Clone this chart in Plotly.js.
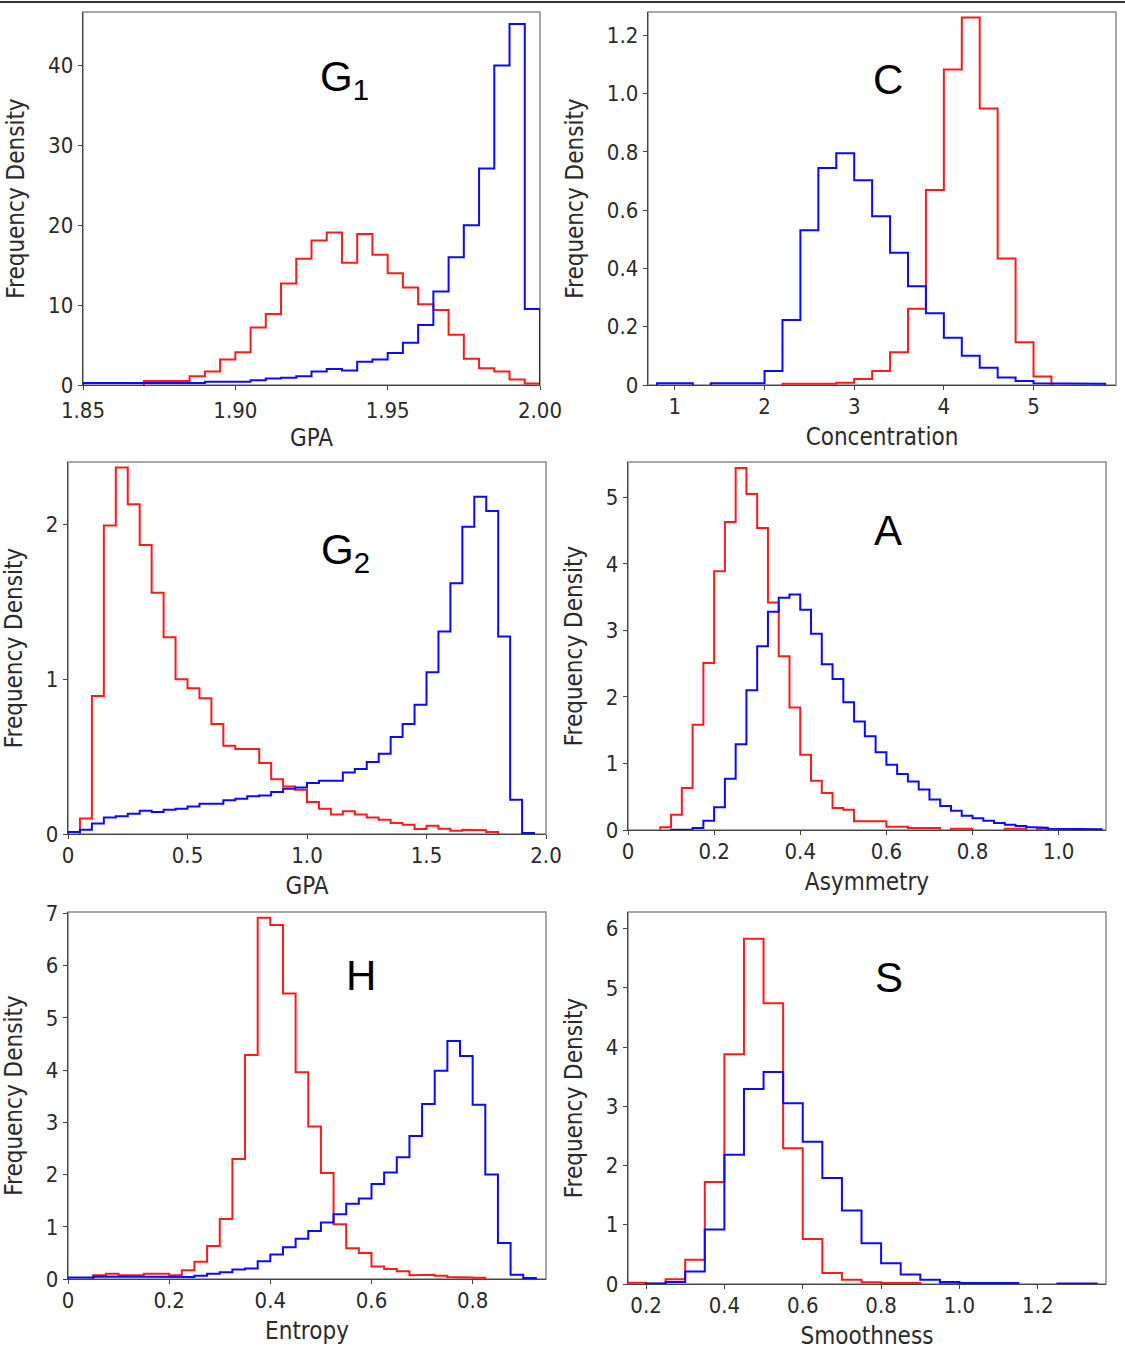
<!DOCTYPE html>
<html>
<head>
<meta charset="utf-8">
<script src="https://cdn.plot.ly/plotly-3.0.1.min.js"></script>
<style>html,body{margin:0;padding:0;background:#fff;}#chart{width:1125px;height:1355px;}</style>
</head>
<body>
<div id="chart"></div>
<script>
// ---- Data (bin start, bin width, density per bin; null = empty bin) ----
const g1Start = 1.85, g1Width = 0.005;
const g1Red  = [null,null,null,null,0.5,0.5,0.5,1.1,1.7,3.2,4.1,7.2,8.9,12.7,15.8,18.1,19.1,15.3,18.9,16.3,14.0,12.2,10.1,9.4,6.3,3.3,2.1,1.7,0.7,0.2];
const g1Blue = [0.25,0.25,0.25,0.25,0.25,0.25,0.25,0.25,0.4,0.4,0.4,0.6,0.8,0.9,1.1,1.7,2.0,1.8,2.9,3.2,4.0,5.3,7.5,11.7,16.0,20.0,27.1,40.0,45.2,9.5];

const cStart = 0.8, cWidth = 0.2;
const cRed  = [null,null,null,null,null,null,null,0.004,0.004,0.004,0.008,0.021,0.048,0.112,0.262,0.669,1.083,1.261,0.949,0.434,0.147,0.029,null,null,null];
const cBlue = [0.006,0.006,null,0.006,0.006,0.006,0.048,0.223,0.531,0.745,0.795,0.703,0.579,0.454,0.339,0.246,0.162,0.100,0.059,0.026,0.014,0.006,0.004,0.004,0.004];

const g2Start = 0.0, g2Width = 0.05;
const g2Red  = [null,0.10,0.89,1.99,2.365,2.127,1.865,1.557,1.27,0.999,0.941,0.876,0.709,0.569,0.548,0.548,0.458,0.354,0.307,0.286,0.206,0.163,0.125,0.146,0.125,0.107,0.092,0.071,0.06,0.032,0.054,0.034,0.021,0.028,0.024,0.013,null,null,null,null];
const g2Blue = [0.013,0.028,0.067,0.107,0.114,0.131,0.15,0.142,0.157,0.163,0.178,0.195,0.195,0.217,0.228,0.243,0.249,0.271,0.292,0.30,0.329,0.344,0.344,0.397,0.419,0.464,0.518,0.625,0.709,0.834,1.044,1.306,1.618,1.983,2.176,2.084,1.274,0.221,0.006,null];

const aStart = 0.075, aWidth = 0.025;
const aRed  = [0.04,0.23,0.63,1.58,2.51,3.89,4.63,5.44,5.05,4.54,3.42,2.61,1.84,1.13,0.74,0.556,0.33,0.306,0.13,0.13,0.13,0.05,0.05,0.03,0.03,0.03,null,0.02,0.02,null,null,null,0.02,0.02,null,0.02,null,null,null,null,null];
const aBlue = [null,0.005,0.005,0.03,0.14,0.34,0.77,1.29,2.10,2.76,3.28,3.49,3.54,3.31,2.95,2.49,2.27,1.92,1.63,1.41,1.17,0.98,0.84,0.73,0.61,0.46,0.36,0.29,0.215,0.175,0.14,0.105,0.08,0.06,0.045,0.035,0.02,0.01,0.01,0.01,0.01];

const hStart = 0.0, hWidth = 0.025;
const hRed  = [null,null,0.07,0.10,0.07,0.07,0.10,0.10,0.07,0.17,0.33,0.63,1.15,2.30,4.29,6.92,6.78,5.47,3.96,2.92,2.03,1.05,0.59,0.50,0.24,0.19,0.15,0.07,0.08,0.06,0.04,0.03,0.025,null,null,null,null];
const hBlue = [0.03,0.03,0.05,0.05,0.05,0.05,0.05,0.05,0.05,0.04,0.06,0.10,0.13,0.18,0.20,0.34,0.47,0.61,0.77,0.92,1.08,1.24,1.44,1.54,1.82,2.04,2.33,2.74,3.35,3.99,4.56,4.27,3.34,2.00,0.69,0.08,0.02];

const sStart = 0.15, sWidth = 0.05;
const sRed  = [0.02,0.005,0.08,0.41,1.72,3.88,5.83,4.74,2.29,0.76,0.185,0.07,0.03,0.015,0.015,null,0.01,null,null,null,null,null,null,null];
const sBlue = [null,0.01,0.035,0.21,0.92,2.18,3.29,3.58,3.05,2.40,1.79,1.24,0.69,0.35,0.16,0.07,0.035,0.015,0.015,0.015,null,null,0.01,0.01];

// ---- Tick labels ----
const g1XTicks = [1.85,1.90,1.95,2.00], g1XText = ["1.85","1.90","1.95","2.00"];
const g1YTicks = [0,10,20,30,40], g1YText = ["0","10","20","30","40"];
const cXTicks = [1,2,3,4,5], cXText = ["1","2","3","4","5"];
const cYTicks = [0,0.2,0.4,0.6,0.8,1.0,1.2], cYText = ["0","0.2","0.4","0.6","0.8","1.0","1.2"];
const g2XTicks = [0,0.5,1.0,1.5,2.0], g2XText = ["0","0.5","1.0","1.5","2.0"];
const g2YTicks = [0,1,2], g2YText = ["0","1","2"];
const aXTicks = [0,0.2,0.4,0.6,0.8,1.0], aXText = ["0","0.2","0.4","0.6","0.8","1.0"];
const aYTicks = [0,1,2,3,4,5], aYText = ["0","1","2","3","4","5"];
const hXTicks = [0,0.2,0.4,0.6,0.8], hXText = ["0","0.2","0.4","0.6","0.8"];
const hYTicks = [0,1,2,3,4,5,6,7], hYText = ["0","1","2","3","4","5","6","7"];
const sXTicks = [0.2,0.4,0.6,0.8,1.0,1.2], sXText = ["0.2","0.4","0.6","0.8","1.0","1.2"];
const sYTicks = [0,1,2,3,4,5,6], sYText = ["0","1","2","3","4","5","6"];

const panelLabels = ["G<sub>1</sub>","C","G<sub>2</sub>","A","H","S"];
const xTitles = ["GPA","Concentration","GPA","Asymmetry","Entropy","Smoothness"];
const yTitle = "Frequency Density";

// ---- Build step outlines ----
function stepXY(start, width, vals) {
  const x = [], y = [];
  let prevNull = true;
  for (let i = 0; i < vals.length; i++) {
    const l = start + i * width, r = start + (i + 1) * width;
    const v = vals[i];
    if (v === null) {
      if (!prevNull) { x.push(l); y.push(0); x.push(null); y.push(null); }
      prevNull = true; continue;
    }
    if (prevNull) { x.push(l); y.push(0); }
    x.push(l); y.push(v); x.push(r); y.push(v);
    prevNull = false;
  }
  if (!prevNull) { x.push(start + vals.length * width); y.push(0); }
  return {x, y};
}

const RED = '#ff1a1a', BLUE = '#0a0aff';
const panels = [
  {start: g1Start, width: g1Width, red: g1Red, blue: g1Blue},
  {start: cStart, width: cWidth, red: cRed, blue: cBlue},
  {start: g2Start, width: g2Width, red: g2Red, blue: g2Blue},
  {start: aStart, width: aWidth, red: aRed, blue: aBlue},
  {start: hStart, width: hWidth, red: hRed, blue: hBlue},
  {start: sStart, width: sWidth, red: sRed, blue: sBlue}
];

const traces = [];
panels.forEach((p, i) => {
  const sfx = i === 0 ? '' : String(i + 1);
  const r = stepXY(p.start, p.width, p.red);
  const b = stepXY(p.start, p.width, p.blue);
  traces.push({x: r.x, y: r.y, type: 'scatter', mode: 'lines', line: {color: RED, width: 2}, xaxis: 'x' + sfx, yaxis: 'y' + sfx, showlegend: false, hoverinfo: 'skip', connectgaps: false});
  traces.push({x: b.x, y: b.y, type: 'scatter', mode: 'lines', line: {color: BLUE, width: 2}, xaxis: 'x' + sfx, yaxis: 'y' + sfx, showlegend: false, hoverinfo: 'skip', connectgaps: false});
});

// ---- Layout ----
const W = 1125, H = 1355;
const FONT = 'DejaVu Sans Condensed, DejaVu Sans, sans-serif';
const boxes = [ // [left, right, top, bottom] in px
  [83, 540, 12, 385],
  [648, 1116, 12, 385],
  [68, 546, 462, 834],
  [628, 1106, 462, 830],
  [68, 546, 912, 1279],
  [628, 1106, 912, 1284]
];
const xRanges = [[1.85, 2.0], [0.70, 5.92], [0, 2.0], [0, 1.11], [0, 0.945], [0.154, 1.374]];
const yRanges = [[0, 46.7], [0, 1.28], [0, 2.40], [0, 5.53], [0, 7.03], [0, 6.28]];
const xT = [[g1XTicks,g1XText],[cXTicks,cXText],[g2XTicks,g2XText],[aXTicks,aXText],[hXTicks,hXText],[sXTicks,sXText]];
const yT = [[g1YTicks,g1YText],[cYTicks,cYText],[g2YTicks,g2YText],[aYTicks,aYText],[hYTicks,hYText],[sYTicks,sYText]];
const labelPos = [[344, 80], [888, 80], [345, 552], [888, 530], [361, 975], [889, 977]];
const xLabelStandoff = [1, -3, -3, -3, -3, -3];
const xTitleStandoff = [7, 10, 10, 10, 10, 10];

const layout = {
  width: W, height: H,
  margin: {l: 0, r: 0, t: 0, b: 0},
  paper_bgcolor: '#fff', plot_bgcolor: '#fff',
  showlegend: false,
  font: {family: FONT, size: 22, color: '#2a2a2a'},
  shapes: [
    {type: 'line', xref: 'paper', yref: 'paper', x0: 0, x1: 1, y0: 1 - 2 / H, y1: 1 - 2 / H, line: {color: '#333', width: 2}}
  ],
  annotations: []
};

boxes.forEach((bx, i) => {
  const sfx = i === 0 ? '' : String(i + 1);
  layout['xaxis' + sfx] = {
    domain: [bx[0] / W, bx[1] / W], anchor: 'y' + sfx, range: xRanges[i],
    showgrid: false, zeroline: false, showline: true, linecolor: '#444', linewidth: 1.3,
    ticks: 'outside', ticklen: 4, tickcolor: '#444', tickwidth: 1, ticklabelstandoff: xLabelStandoff[i],
    tickvals: xT[i][0], ticktext: xT[i][1], tickfont: {family: FONT, size: 22, color: '#2a2a2a'},
    title: {text: xTitles[i], font: {family: FONT, size: 24, color: '#2a2a2a'}, standoff: xTitleStandoff[i]},
    automargin: false, fixedrange: true
  };
  layout['yaxis' + sfx] = {
    domain: [1 - bx[3] / H, 1 - bx[2] / H], anchor: 'x' + sfx, range: yRanges[i],
    showgrid: false, zeroline: false, showline: true, linecolor: '#444', linewidth: 1.3,
    ticks: 'outside', ticklen: 4, tickcolor: '#444', tickwidth: 1,
    tickvals: yT[i][0], ticktext: yT[i][1], tickfont: {family: FONT, size: 22, color: '#2a2a2a'},
    title: {text: yTitle, font: {family: FONT, size: 24, color: '#2a2a2a'}, standoff: 16},
    automargin: false, fixedrange: true
  };
  layout.shapes.push({type: 'rect', xref: 'x' + sfx + ' domain', yref: 'y' + sfx + ' domain', x0: 0, x1: 1, y0: 0, y1: 1, line: {color: '#8a8a8a', width: 1.5}, layer: 'below'});
  layout.annotations.push({
    text: panelLabels[i], xref: 'paper', yref: 'paper',
    x: labelPos[i][0] / W, y: 1 - labelPos[i][1] / H, xanchor: 'center', yanchor: 'middle',
    showarrow: false, font: {family: 'Liberation Sans, Arial, sans-serif', size: 42, color: '#000'}
  });
});

Plotly.newPlot('chart', traces, layout, {staticPlot: true, displayModeBar: false});
</script>
</body>
</html>
